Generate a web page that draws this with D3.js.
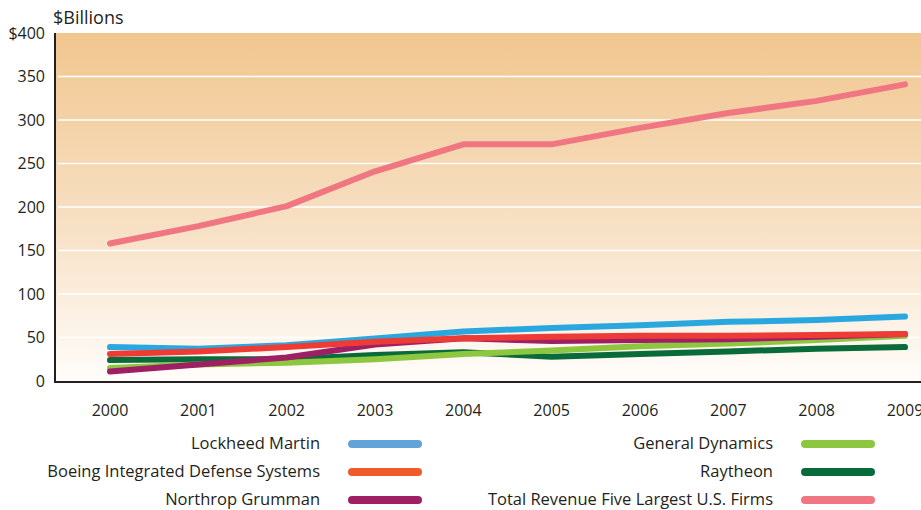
<!DOCTYPE html>
<html>
<head>
<meta charset="utf-8">
<script src="https://d3js.org/d3.v7.min.js"></script>
<style>
  body { margin: 0; background: #fff; }
  text { font-family: "Open Sans", sans-serif; fill: #231f20; }
</style>
</head>
<body>
<div id="chart"></div>
<script>
var years = [2000, 2001, 2002, 2003, 2004, 2005, 2006, 2007, 2008, 2009];
var yTicks = [0, 50, 100, 150, 200, 250, 300, 350, 400];

var lockheed = [39, 37, 41, 49, 57, 61, 64, 68, 70, 74];
var boeing   = [31, 34, 39, 45, 49, 51, 52, 52, 53, 54];
var northrop = [11, 19, 27, 42, 49, 46, 47, 48, 51, 54];
var genDyn   = [15, 19, 21, 25, 31, 35, 40, 43, 47, 52];
var raytheon = [24, 25, 25, 30, 33, 28, 31, 34, 37, 39];
var total    = [158, 178, 201, 241, 272, 272, 291, 308, 322, 341];

var names = ["Lockheed Martin", "Boeing Integrated Defense Systems", "Northrop Grumman",
             "General Dynamics", "Raytheon", "Total Revenue Five Largest U.S. Firms"];
var lineColors = ["#29a8e0", "#ef3b36", "#9e1f63", "#8dc63f", "#0a6b3a", "#f07782"];
var legendColors = ["#62a4d8", "#f15a2b", "#9e1f63", "#8dc63f", "#0a6b3a", "#f07782"];

var series = [lockheed, boeing, northrop, genDyn, raytheon, total];
// drawing order: total first, then the smaller ones
var drawOrder = [5, 0, 4, 3, 2, 1];

var W = 921, H = 510;
var margin = {top: 33, left: 55, right: 0, bottom: 128};
var plotBottom = 382;

var svg = d3.select("#chart").append("svg")
    .attr("width", W).attr("height", H);

var defs = svg.append("defs");
var grad = defs.append("linearGradient").attr("id", "bg")
    .attr("x1", 0).attr("y1", 0).attr("x2", 0).attr("y2", 1);
grad.append("stop").attr("offset", "0%").attr("stop-color", "#f1c68f");
grad.append("stop").attr("offset", "55%").attr("stop-color", "#f7e0c4");
grad.append("stop").attr("offset", "100%").attr("stop-color", "#fffdfb");

var x = d3.scaleLinear().domain([2000, 2009]).range([110, 905]);
var y = d3.scaleLinear().domain([0, 400]).range([381, 33]);

svg.append("rect")
    .attr("x", margin.left).attr("y", y(400))
    .attr("width", W - margin.left).attr("height", plotBottom - y(400))
    .attr("fill", "url(#bg)");

// gridlines
svg.append("g").selectAll("line")
  .data(yTicks.filter(function(d) { return d > 0 && d < 400; }))
  .enter().append("line")
    .attr("x1", 58).attr("x2", W)
    .attr("y1", function(d) { return y(d); })
    .attr("y2", function(d) { return y(d); })
    .attr("stroke", "#fff").attr("stroke-width", 1.5);

// y tick labels
svg.append("g").selectAll("text")
  .data(yTicks)
  .enter().append("text")
    .attr("x", 45)
    .attr("y", function(d) { return y(d); })
    .attr("dy", "0.35em")
    .attr("text-anchor", "end")
    .style("font-size", "16px")
    .text(function(d) { return d === 400 ? "$400" : d; });

svg.append("text")
    .attr("x", 53).attr("y", 24)
    .style("font-size", "18px")
    .text("$Billions");

// x tick labels
svg.append("g").selectAll("text")
  .data(years)
  .enter().append("text")
    .attr("x", function(d) { return x(d); })
    .attr("y", 416)
    .attr("text-anchor", "middle")
    .style("font-size", "16px")
    .text(function(d) { return d; });

var line = d3.line()
    .x(function(d, i) { return x(years[i]); })
    .y(function(d) { return y(d); });

svg.append("g").selectAll("path")
  .data(drawOrder)
  .enter().append("path")
    .attr("d", function(k) { return line(series[k]); })
    .attr("fill", "none")
    .attr("stroke", function(k) { return lineColors[k]; })
    .attr("stroke-width", 6)
    .attr("stroke-linecap", "round")
    .attr("stroke-linejoin", "round");

// axes
svg.append("line")
    .attr("x1", margin.left).attr("x2", margin.left)
    .attr("y1", y(400)).attr("y2", plotBottom)
    .attr("stroke", "#231f20").attr("stroke-width", 2);
svg.append("line")
    .attr("x1", margin.left - 1).attr("x2", W)
    .attr("y1", plotBottom).attr("y2", plotBottom)
    .attr("stroke", "#231f20").attr("stroke-width", 2);

// legend
var legend = svg.append("g").selectAll("g")
  .data(names)
  .enter().append("g")
    .attr("transform", function(d, i) {
      var col = Math.floor(i / 3), row = i % 3;
      return "translate(" + (col === 0 ? 320 : 773) + "," + (443 + row * 28) + ")";
    });
legend.append("text")
    .attr("text-anchor", "end")
    .attr("dy", "0.35em")
    .style("font-size", "16.5px")
    .text(function(d) { return d; });
legend.append("line")
    .attr("x1", 32).attr("x2", 98)
    .attr("y1", 1).attr("y2", 1)
    .attr("stroke", function(d, i) { return legendColors[i]; })
    .attr("stroke-width", 8)
    .attr("stroke-linecap", "round");
</script>
</body>
</html>
